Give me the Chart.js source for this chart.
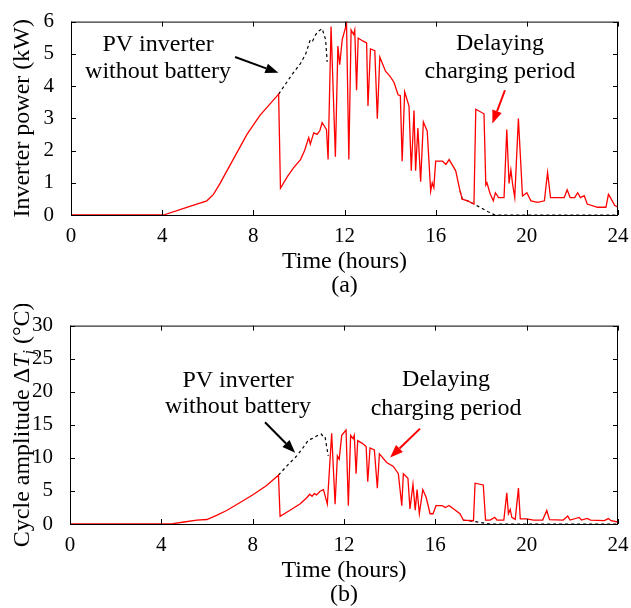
<!DOCTYPE html>
<html>
<head>
<meta charset="utf-8">
<script src="https://cdn.jsdelivr.net/npm/chart.js@4.4.0/dist/chart.umd.min.js"></script>
<style>
  body { margin: 0; background: #fff; }
  .panel { position: absolute; left: 0; width: 631px; height: 304px; }
</style>
</head>
<body>
<div class="panel" style="top:0"><canvas id="chartA" width="631" height="304"></canvas></div>
<div class="panel" style="top:304px"><canvas id="chartB" width="631" height="304"></canvas></div>
<script>
// (a) inverter power, kW
const powerTime = [0, 4.06, 5.08, 5.96, 6.25, 6.54, 6.84, 7.13, 7.72, 8.29, 9.11, 9.19, 9.5, 9.77, 10.07, 10.25, 10.43, 10.5, 10.65, 10.8, 10.92, 11.02, 11.21, 11.28, 11.41, 11.6, 11.71, 11.79, 11.9, 12.09, 12.19, 12.29, 12.4, 12.45, 12.53, 12.6, 12.8, 12.97, 13.03, 13.14, 13.33, 13.44, 13.55, 13.8, 14.0, 14.17, 14.35, 14.45, 14.53, 14.64, 14.83, 14.93, 15.05, 15.12, 15.22, 15.34, 15.46, 15.63, 15.78, 15.85, 15.92, 16.0, 16.3, 16.45, 16.59, 16.88, 17.07, 17.17, 17.4, 17.68, 17.76, 18.12, 18.2, 18.25, 18.39, 18.53, 18.62, 18.76, 19.0, 19.12, 19.22, 19.3, 19.38, 19.47, 19.63, 19.81, 20.0, 20.18, 20.48, 20.77, 20.91, 21.04, 21.64, 21.77, 21.9, 22.1, 22.23, 22.35, 22.52, 22.65, 23.1, 23.47, 23.58, 23.7, 23.85, 24];
const powerBatt = [0, 0, 0.24, 0.44, 0.64, 0.98, 1.37, 1.74, 2.5, 3.09, 3.75, 0.83, 1.2, 1.47, 1.72, 2.0, 2.4, 2.2, 2.55, 2.5, 2.62, 2.87, 2.65, 1.72, 5.85, 1.81, 5.24, 4.66, 5.44, 5.93, 1.72, 5.74, 5.6, 5.74, 3.87, 5.49, 5.4, 5.34, 3.38, 5.15, 5.1, 2.99, 4.9, 4.46, 4.3, 4.12, 3.73, 3.7, 1.67, 3.82, 3.38, 1.37, 3.24, 1.37, 2.7, 1.03, 2.89, 2.6, 0.74, 1.0, 0.85, 1.67, 1.67, 1.57, 1.72, 1.37, 0.74, 0.49, 0.44, 0.34, 3.28, 3.14, 0.93, 1.0, 0.66, 0.44, 0.69, 0.54, 0.54, 2.65, 0.98, 1.4, 0.93, 0.54, 2.99, 0.59, 0.69, 0.44, 0.39, 0.44, 1.32, 0.54, 0.54, 0.78, 0.54, 0.54, 0.69, 0.54, 0.6, 0.34, 0.24, 0.24, 0.64, 0.5, 0.3, 0.24];
// PV inverter without battery (only where it differs)
const pvTimeA = [9.11, 9.7, 10.07, 10.3, 10.5, 10.6, 10.73, 10.85, 11.02, 11.1, 11.17, 11.24, null, 17.07, 17.17, 17.4, 17.68, 18.0, 18.3, 18.6, 24];
const pvPowerA = [3.75, 4.36, 4.7, 5.0, 5.44, 5.4, 5.59, 5.7, 5.78, 5.6, 5.45, 4.75, null, 0.74, 0.49, 0.44, 0.34, 0.22, 0.1, 0, 0];

// (b) cycle amplitude, degC
const cycleTime = [0, 4.0, 4.5, 5.0, 5.55, 5.99, 6.42, 6.86, 7.45, 8.03, 8.61, 9.13, 9.2, 9.6, 10.07, 10.37, 10.5, 10.6, 10.7, 10.8, 10.95, 11.1, 11.27, 11.46, 11.61, 11.71, 11.79, 11.9, 12.09, 12.19, 12.29, 12.4, 12.45, 12.53, 12.6, 12.8, 12.97, 13.04, 13.14, 13.33, 13.46, 13.55, 13.87, 14.16, 14.38, 14.53, 14.6, 14.8, 14.89, 15.02, 15.12, 15.2, 15.3, 15.45, 15.6, 15.77, 15.9, 16.03, 16.3, 16.44, 16.6, 17.08, 17.23, 17.67, 17.74, 18.1, 18.2, 18.4, 18.6, 18.7, 19.0, 19.13, 19.2, 19.28, 19.35, 19.5, 19.64, 19.72, 20.0, 20.3, 20.7, 20.88, 21.0, 21.6, 21.8, 21.9, 22.3, 22.4, 22.65, 22.8, 23.4, 23.58, 23.7, 24];
const cycleBatt = [0, 0, 0.05, 0.3, 0.58, 0.68, 1.31, 2.04, 3.25, 4.46, 5.82, 7.38, 1.16, 2.0, 3.01, 3.98, 4.5, 4.2, 4.6, 4.4, 4.95, 5.2, 3.01, 13.7, 3.0, 10.3, 9.8, 13.4, 14.2, 2.77, 13.4, 12.9, 13.4, 7.6, 12.6, 12.2, 11.7, 6.4, 11.5, 11.2, 5.43, 10.6, 9.3, 8.7, 7.6, 2.77, 7.6, 6.9, 2.28, 6.0, 2.1, 5.2, 1.55, 5.2, 4.0, 1.55, 1.55, 2.77, 2.77, 2.5, 2.8, 1.55, 0.58, 0.5, 6.17, 5.9, 0.58, 0.6, 1.0, 0.6, 0.6, 4.7, 1.55, 2.2, 1.0, 0.7, 5.43, 0.77, 0.77, 0.6, 0.6, 2.04, 0.65, 0.6, 1.2, 0.6, 1.0, 0.6, 0.85, 0.6, 0.5, 0.82, 0.5, 0.3];
const pvTimeB = [9.13, 9.5, 9.93, 10.2, 10.44, 10.6, 10.8, 11.0, 11.1, 11.17, 11.25, 11.31, null, 17.23, 17.67, 18.0, 18.4, 24];
const pvCycleB = [7.38, 8.8, 10.3, 11.5, 12.7, 12.9, 13.3, 13.6, 13.2, 13.2, 11.5, 10.3, null, 0.58, 0.4, 0.2, 0, 0];

const timeTicks = [0, 4, 8, 12, 16, 20, 24];

const SERIF = '"Liberation Serif", "Times New Roman", serif';
const RED = '#ff0000';

function toPoints(xs, ys) {
  return xs.map((x, i) => (x === null ? { x: NaN, y: NaN } : { x: x, y: ys[i] }));
}

function arrow(ctx, x1, y1, x2, y2, color) {
  const ang = Math.atan2(y2 - y1, x2 - x1);
  const len = 13, half = 5;
  const bx = x2 - len * Math.cos(ang), by = y2 - len * Math.sin(ang);
  ctx.strokeStyle = color;
  ctx.fillStyle = color;
  ctx.lineWidth = 2;
  ctx.beginPath();
  ctx.moveTo(x1, y1);
  ctx.lineTo(bx, by);
  ctx.stroke();
  ctx.beginPath();
  ctx.moveTo(x2, y2);
  ctx.lineTo(bx + half * Math.sin(ang), by - half * Math.cos(ang));
  ctx.lineTo(bx - half * Math.sin(ang), by + half * Math.cos(ang));
  ctx.closePath();
  ctx.fill();
}

// box with inward ticks, axis titles and annotations (MATLAB look)
function framePlugin(opt) {
  return {
    id: 'frame',
    afterDatasetsDraw(chart) {
      const ctx = chart.ctx;
      const { left, right, top, bottom } = chart.chartArea;
      const xs = chart.scales.x, ys = chart.scales.y;
      ctx.save();
      ctx.strokeStyle = '#000';
      ctx.lineWidth = 1;
      ctx.strokeRect(left + 0.5, top + 0.5, right - left - 1, bottom - top);
      ctx.beginPath();
      xs.ticks.forEach(t => {
        const px = Math.round(xs.getPixelForValue(t.value)) + 0.5;
        ctx.moveTo(px, bottom); ctx.lineTo(px, bottom - 5);
        ctx.moveTo(px, top); ctx.lineTo(px, top + 5);
      });
      ys.ticks.forEach(t => {
        const py = Math.round(ys.getPixelForValue(t.value)) + 0.5;
        ctx.moveTo(left, py); ctx.lineTo(left + 5, py);
        ctx.moveTo(right, py); ctx.lineTo(right - 5, py);
      });
      ctx.stroke();

      // x title
      ctx.fillStyle = '#000';
      ctx.textAlign = 'center';
      ctx.textBaseline = 'alphabetic';
      ctx.font = '24px ' + SERIF;
      const cx = (left + right) / 2;
      ctx.fillText('Time (hours)', cx, bottom + 53);
      ctx.fillText(opt.tag, cx, bottom + 77);

      // y title
      ctx.save();
      ctx.translate(29, (top + bottom) / 2);
      ctx.rotate(-Math.PI / 2);
      let w = 0;
      opt.yTitle.forEach(p => { ctx.font = p.font; w += ctx.measureText(p.text).width; });
      let x0 = -w / 2;
      ctx.textAlign = 'left';
      opt.yTitle.forEach(p => {
        ctx.font = p.font;
        ctx.fillText(p.text, x0, p.dy || 0);
        x0 += ctx.measureText(p.text).width;
      });
      ctx.restore();

      // annotations
      ctx.textAlign = 'center';
      ctx.font = '24px ' + SERIF;
      opt.notes.forEach(n => {
        ctx.fillStyle = '#000';
        n.lines.forEach((s, i) => {
          ctx.fillText(s, xs.getPixelForValue(n.t), ys.getPixelForValue(n.y[i]));
        });
        arrow(ctx, xs.getPixelForValue(n.from[0]), ys.getPixelForValue(n.from[1]),
          xs.getPixelForValue(n.to[0]), ys.getPixelForValue(n.to[1]), n.color);
      });
      ctx.restore();
    }
  };
}

function makeChart(id, opt) {
  return new Chart(document.getElementById(id), {
    type: 'scatter',
    data: {
      datasets: [
        {
          data: toPoints(opt.redT, opt.redY),
          showLine: true,
          borderColor: RED,
          borderWidth: 1.3,
          pointRadius: 0,
          tension: 0,
          order: 1
        },
        {
          data: toPoints(opt.pvT, opt.pvY),
          showLine: true,
          spanGaps: false,
          borderColor: '#000',
          borderWidth: 1.2,
          borderDash: [3, 3],
          pointRadius: 0,
          tension: 0,
          order: 2
        }
      ]
    },
    options: {
      responsive: false,
      animation: false,
      devicePixelRatio: 1,
      layout: { padding: { top: opt.top, right: 13, left: 0, bottom: 0 } },
      plugins: { legend: { display: false }, tooltip: { enabled: false } },
      scales: {
        x: {
          type: 'linear',
          min: 0,
          max: 24,
          afterBuildTicks: s => { s.ticks = timeTicks.map(v => ({ value: v })); },
          afterFit: s => { s.height = opt.xHeight; },
          grid: { display: false },
          border: { display: false },
          ticks: { color: '#000', padding: 1, maxRotation: 0, autoSkip: false, font: { family: SERIF, size: 21 } }
        },
        y: {
          min: 0,
          max: opt.yMax,
          afterBuildTicks: s => { s.ticks = opt.yTicks.map(v => ({ value: v })); },
          afterFit: s => { s.width = opt.left; },
          grid: { display: false },
          border: { display: false },
          ticks: { color: '#000', padding: 9, autoSkip: false, font: { family: SERIF, size: 21 } }
        }
      }
    },
    plugins: [framePlugin(opt)]
  });
}

makeChart('chartA', {
  redT: powerTime, redY: powerBatt, pvT: pvTimeA, pvY: pvPowerA,
  yMax: 6, yTicks: [0, 1, 2, 3, 4, 5, 6],
  top: 11, xHeight: 89, left: 71, tag: '(a)',
  yTitle: [{ text: 'Inverter power (kW)', font: '24px ' + SERIF }],
  notes: [
    { lines: ['PV inverter', 'without battery'], t: 3.82, y: [5.1, 4.26], from: [7.2, 4.9], to: [9.1, 4.41], color: '#000' },
    { lines: ['Delaying', 'charging period'], t: 18.82, y: [5.12, 4.26], from: [19.04, 3.87], to: [18.49, 2.84], color: RED }
  ]
});

makeChart('chartB', {
  redT: cycleTime, redY: cycleBatt, pvT: pvTimeB, pvY: pvCycleB,
  yMax: 30, yTicks: [0, 5, 10, 15, 20, 25, 30],
  top: 14, xHeight: 84, left: 70, tag: '(b)',
  yTitle: [
    { text: 'Cycle amplitude \u0394', font: '24px ' + SERIF },
    { text: 'T', font: 'italic 24px ' + SERIF },
    { text: 'j', font: 'italic 16px ' + SERIF, dy: 5 },
    { text: ' (\u00B0C)', font: '24px ' + SERIF }
  ],
  notes: [
    { lines: ['PV inverter', 'without battery'], t: 7.36, y: [20.68, 16.85], from: [8.54, 15.39], to: [9.86, 10.78], color: '#000' },
    { lines: ['Delaying', 'charging period'], t: 16.47, y: [20.87, 16.5], from: [15.33, 14.42], to: [14.02, 10.05], color: RED }
  ]
});
</script>
</body>
</html>
